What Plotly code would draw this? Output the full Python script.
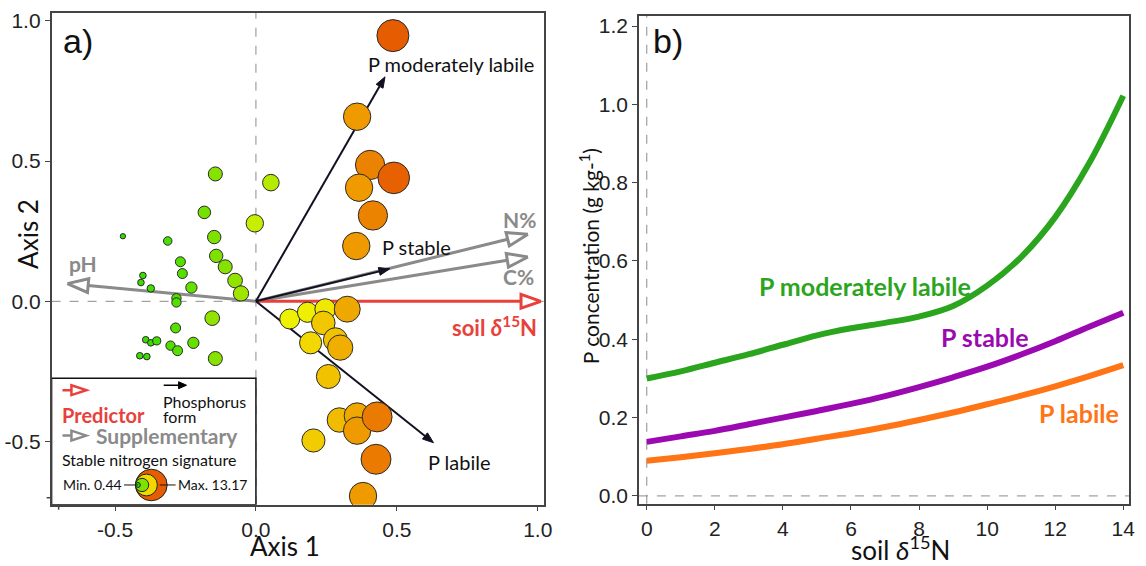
import math
import plotly.graph_objects as go
from plotly.colors import sample_colorscale

W, H = 1146, 566

# ---------------- Panel a data (ordination) ----------------
site_axis1 = [-0.144, 0.053, -0.183, -0.004, -0.472, -0.313, -0.148, -0.268, -0.141, -0.261,
              -0.109, -0.401, -0.408, -0.074, -0.373, -0.229, -0.053, -0.282, -0.282, -0.155,
              -0.285, -0.391, -0.373, -0.352, -0.303, -0.222, -0.278, -0.412, -0.387, -0.144,
              0.120, 0.183, 0.246, 0.324, 0.239, 0.194, 0.282, 0.299, 0.257, 0.296,
              0.359, 0.359, 0.430, 0.204, 0.426, 0.380, 0.486, 0.359, 0.405, 0.489,
              0.366, 0.415, 0.356]
site_axis2 = [0.454, 0.423, 0.317, 0.278, 0.232, 0.215, 0.229, 0.141, 0.162, 0.099,
              0.123, 0.092, 0.067, 0.074, 0.046, 0.049, 0.028, 0.011, -0.004, -0.060,
              -0.095, -0.137, -0.148, -0.141, -0.158, -0.148, -0.176, -0.194, -0.197, -0.204,
              -0.063, -0.039, -0.028, -0.028, -0.077, -0.148, -0.137, -0.165, -0.268, -0.423,
              -0.408, -0.461, -0.412, -0.496, -0.563, -0.694, 0.947, 0.658, 0.486, 0.440,
              0.405, 0.306, 0.197]
site_d15n = [4.7, 5.9, 4.0, 6.3, 0.6, 2.1, 4.4, 2.8, 4.4, 2.8,
             4.7, 1.2, 1.2, 5.0, 1.6, 3.4, 5.3, 2.5, 2.5, 5.0,
             2.8, 1.2, 1.2, 1.9, 2.5, 3.4, 2.8, 1.2, 1.2, 4.7,
             7.5, 7.6, 7.9, 10.3, 9.2, 8.5, 9.4, 10.0, 9.4, 9.6,
             10.3, 11.0, 12.2, 9.0, 12.2, 11.0, 13.17, 11.0, 11.9, 13.0,
             11.0, 11.9, 11.0]

pform_labels = ["P moderately labile", "P stable", "P labile"]
pform_axis1 = [0.458, 0.475, 0.630]
pform_axis2 = [0.800, 0.116, -0.504]

supp_labels = ["N%", "C%", "pH"]
supp_axis1 = [0.965, 0.965, -0.669]
supp_axis2 = [0.239, 0.158, 0.063]

pred_labels = ["soil <i>δ</i><sup>15</sup>N"]
pred_axis1 = [1.011]
pred_axis2 = [0.0]

d15n_min, d15n_max = 0.44, 13.17
legend_values = [13.17, 8.5, 4.4, 0.44]

# tick values / labels
a_ticks = [-0.5, 0, 0.5, 1.0]
a_ticktext = ['-0.5', '0.0', '0.5', '1.0']
a_extra_tick = -0.7
b_xticks = [0, 2, 4, 6, 8, 10, 12, 14]
b_yticks = [0, 0.2, 0.4, 0.6, 0.8, 1.0, 1.2]
b_yticktext = ['0.0', '0.2', '0.4', '0.6', '0.8', '1.0', '1.2']

# ---------------- Panel b data (fitted curves) ----------------
soil_d15n = [0, 1, 2, 3, 4, 5, 6, 7, 8, 9, 10, 11, 12, 13, 14]
p_mod_labile = [0.300, 0.318, 0.340, 0.362, 0.386, 0.410, 0.428, 0.442, 0.458, 0.485,
                0.537, 0.610, 0.712, 0.850, 1.022]
p_stable = [0.138, 0.152, 0.166, 0.183, 0.200, 0.217, 0.235, 0.255, 0.278, 0.303,
            0.330, 0.361, 0.395, 0.432, 0.468]
p_labile = [0.090, 0.099, 0.109, 0.120, 0.132, 0.146, 0.160, 0.176, 0.194, 0.213,
            0.234, 0.256, 0.280, 0.306, 0.334]

# ---------------- geometry / style ----------------
A = dict(l=52, r=548, t=9, b=507)
A_XR = [-0.725, 1.021]
A_YR = [-0.725, 1.028]
B = dict(l=644, r=1138, t=12, b=506)
B_XR = [-0.23, 14.17]
B_YR = [-0.02, 1.226]

SX = (A["r"] - A["l"]) / (A_XR[1] - A_XR[0])
SY = (A["b"] - A["t"]) / (A_YR[1] - A_YR[0])


def ax_px(px):
    return A_XR[0] + (px - A["l"]) / SX


def ay_px(py):
    return A_YR[1] - (py - A["t"]) / SY


def x_to_px(x):
    return A["l"] + (x - A_XR[0]) * SX


def y_to_px(y):
    return A["t"] + (A_YR[1] - y) * SY


CSCALE = [[0.0, '#2edc00'], [0.185, '#55e000'], [0.335, '#86e200'], [0.46, '#c6ee00'],
          [0.555, '#eef200'], [0.633, '#f2d800'], [0.704, '#f1c200'], [0.751, '#efae00'],
          [0.853, '#ef9500'], [0.924, '#eb7a00'], [1.0, '#e65c00']]


def tnorm(v):
    return (v - d15n_min) / (d15n_max - d15n_min)


def radius(v):
    return 2.5 + tnorm(v) * 13.5


RED = '#e8413c'
GRAY = '#8a8a8a'
AXCOL = '#444'
TICKFONT = dict(family='Liberation Sans, Arial', size=21, color='#222')
LATO = 'Lato, Open Sans, sans-serif'


def head_poly(x0, y0, xt, yt, L, hw):
    """Triangle arrowhead (in data coords of panel a) pointing from (x0,y0) to tip (xt,yt)."""
    dx, dy = (xt - x0) * SX, (yt - y0) * SY
    n = math.hypot(dx, dy)
    ux, uy = dx / n, dy / n
    px, py = -uy, ux
    bx, by = xt - ux * L / SX, yt - uy * L / SY
    xs = [xt, bx + px * hw / SX, bx - px * hw / SX, xt]
    ys = [yt, by + py * hw / SY, by - py * hw / SY, yt]
    return xs, ys, bx, by


fig = go.Figure()


def add_arrow(x0, y0, xt, yt, color, width, L, hw, filled, xref='x', yref='y'):
    xs, ys, bx, by = head_poly(x0, y0, xt, yt, L, hw)
    fig.add_trace(go.Scatter(x=[x0, bx], y=[y0, by], mode='lines',
                             line=dict(color=color, width=width), hoverinfo='skip',
                             showlegend=False, xaxis=xref, yaxis=yref))
    fig.add_trace(go.Scatter(x=xs, y=ys, mode='lines', fill='toself',
                             fillcolor=color if filled else 'white',
                             line=dict(color=color, width=width if not filled else 1),
                             hoverinfo='skip', showlegend=False, xaxis=xref, yaxis=yref))


# arrows (drawn below the points)
for xt, yt in zip(supp_axis1, supp_axis2):
    add_arrow(0, 0, xt, yt, GRAY, 3, 21, 7, False)
for xt, yt in zip(pred_axis1, pred_axis2):
    add_arrow(0, 0, xt, yt, RED, 3, 20, 7, False)
for xt, yt in zip(pform_axis1, pform_axis2):
    add_arrow(0, 0, xt, yt, '#111122', 2, 11, 4, True)

# site points
fig.add_trace(go.Scatter(
    x=site_axis1, y=site_axis2, mode='markers', showlegend=False,
    marker=dict(size=[2 * radius(v) for v in site_d15n], color=site_d15n,
                colorscale=CSCALE, cmin=d15n_min, cmax=d15n_max,
                line=dict(color='#2a2a2a', width=1), opacity=1),
    xaxis='x', yaxis='y'))

# ---------------- Panel b curves ----------------
for vals, col in [(p_labile, '#ff7415'), (p_stable, '#9a0ab0'), (p_mod_labile, '#2ba51e')]:
    fig.add_trace(go.Scatter(x=soil_d15n, y=vals, mode='lines', line_shape='spline',
                             line=dict(color=col, width=6), showlegend=False,
                             xaxis='x2', yaxis='y2'))

shapes = []
# dashed reference lines
dash = dict(color='#8c8c8c', width=1, dash='dash')
shapes += [
    dict(type='line', xref='x', yref='y domain', x0=0, x1=0, y0=0, y1=1, line=dash, layer='below'),
    dict(type='line', xref='x domain', yref='y', x0=0, x1=1, y0=0, y1=0, line=dash, layer='below'),
    dict(type='line', xref='x2', yref='y2 domain', x0=0, x1=0, y0=0, y1=1, line=dash, layer='below'),
    dict(type='line', xref='x2 domain', yref='y2', x0=0, x1=1, y0=0, y1=0, line=dash, layer='below'),
]

# extra unlabeled end ticks of panel a (drawn as short marks in paper space)
tx = x_to_px(a_extra_tick)
shapes.append(dict(type='line', xref='paper', yref='paper', x0=tx / W, x1=tx / W,
                   y0=1 - A['b'] / H, y1=1 - (A['b'] + 5) / H,
                   line=dict(color=AXCOL, width=1.5)))
ty = y_to_px(a_extra_tick)
shapes.append(dict(type='line', xref='paper', yref='paper', x0=A['l'] / W, x1=(A['l'] - 5) / W,
                   y0=1 - ty / H, y1=1 - ty / H, line=dict(color=AXCOL, width=1.5)))

# legend box (panel a)
shapes.append(dict(type='rect', xref='x', yref='y', x0=A_XR[0], x1=0, y0=A_YR[0], y1=ay_px(379),
                   fillcolor='white', line=dict(color='#111', width=1.5), layer='above'))


def path_arrow(px0, pxt, py, color, width, L, hw, filled):
    x0, xt, y = ax_px(px0), ax_px(pxt), ay_px(py)
    xs, ys, bx, by = head_poly(x0, y, xt, y, L, hw)
    out = [dict(type='line', xref='x', yref='y', x0=x0, y0=y, x1=bx, y1=by,
                line=dict(color=color, width=width), layer='above')]
    p = 'M {} {} L {} {} L {} {} Z'.format(xs[0], ys[0], xs[1], ys[1], xs[2], ys[2])
    out.append(dict(type='path', xref='x', yref='y', path=p,
                    fillcolor=color if filled else 'white',
                    line=dict(color=color, width=width if not filled else 1), layer='above'))
    return out


shapes += path_arrow(63, 87, 391, RED, 2.5, 15, 5, False)
shapes += path_arrow(63, 87, 437, GRAY, 2.5, 15, 5, False)
shapes += path_arrow(165, 188, 386, '#000', 1.5, 8, 3.5, True)

# legend nested circles
left_edge_px, cy_px = 136.5, 487
for v in legend_values:
    r = radius(v)
    cx = left_edge_px + r
    col = sample_colorscale(CSCALE, [tnorm(v)])[0]
    shapes.append(dict(type='circle', xref='x', yref='y',
                       x0=ax_px(cx - r), x1=ax_px(cx + r), y0=ay_px(cy_px + r), y1=ay_px(cy_px - r),
                       fillcolor=col, line=dict(color='#222', width=1), layer='above'))
shapes.append(dict(type='line', xref='x', yref='y', x0=ax_px(125), x1=ax_px(139),
                   y0=ay_px(cy_px), y1=ay_px(cy_px), line=dict(color='#111', width=1), layer='above'))
shapes.append(dict(type='line', xref='x', yref='y', x0=ax_px(161), x1=ax_px(177),
                   y0=ay_px(cy_px), y1=ay_px(cy_px), line=dict(color='#111', width=1), layer='above'))

ann = []


def A_text(text, px, py, size, color='#111', bold=False, xanchor='left', family=LATO):
    ann.append(dict(text='<b>%s</b>' % text if bold else text, x=ax_px(px), y=ay_px(py),
                    xref='x', yref='y', showarrow=False, xanchor=xanchor, yanchor='middle',
                    font=dict(family=family, size=size, color=color)))


# legend text
A_text('Phosphorus', 162, 402, 16)
A_text('form', 162, 418, 16)
A_text('Predictor', 60, 416, 20, RED, True)
A_text('Supplementary', 95, 437, 21, GRAY, True)
A_text('Stable nitrogen signature', 60, 461, 16)
A_text('Min. 0.44', 125, 487, 14, xanchor='right')
A_text('Max. 13.17', 177, 487, 14)

# arrow labels (offsets in pixels from arrow tips)
pform_style = [('center', 66, 13), ('left', -10, 22), ('left', -7, -19)]
for lab, xt, yt, (xa, xs, ys) in zip(pform_labels, pform_axis1, pform_axis2, pform_style):
    ann.append(dict(text=lab, x=xt, y=yt, xref='x', yref='y', showarrow=False,
                    xanchor=xa, yanchor='middle', xshift=xs, yshift=ys,
                    font=dict(family=LATO, size=20, color='#111')))
supp_style = [('right', 10, 15), ('right', 8, -20), ('left', 0, 20)]
for lab, xt, yt, (xa, xs, ys) in zip(supp_labels, supp_axis1, supp_axis2, supp_style):
    ann.append(dict(text='<b>%s</b>' % lab, x=xt, y=yt, xref='x', yref='y', showarrow=False,
                    xanchor=xa, yanchor='middle', xshift=xs, yshift=ys,
                    font=dict(family=LATO, size=21, color=GRAY)))
for lab, xt, yt in zip(pred_labels, pred_axis1, pred_axis2):
    ann.append(dict(text='<b>%s</b>' % lab, x=xt, y=yt, xref='x', yref='y', showarrow=False,
                    xanchor='right', yanchor='middle', xshift=-2, yshift=-25,
                    font=dict(family=LATO, size=22, color=RED)))

# panel b curve labels
for lab, x, y, col in [('P moderately labile', 6.41, 0.535, '#2ba51e'),
                       ('P stable', 9.94, 0.406, '#9a0ab0'),
                       ('P labile', 12.71, 0.212, '#ff7415')]:
    ann.append(dict(text='<b>%s</b>' % lab, x=x, y=y, xref='x2', yref='y2', showarrow=False,
                    xanchor='center', yanchor='middle',
                    font=dict(family=LATO, size=25, color=col)))


def P_text(text, px, py, size, angle=0, family=LATO):
    ann.append(dict(text=text, x=px / W, y=1 - py / H, xref='paper', yref='paper',
                    showarrow=False, xanchor='center', yanchor='middle', textangle=angle,
                    font=dict(family=family, size=size, color='#111')))


P_text('Axis 1', 287, 549, 26)
P_text('Axis 2', 28, 233, 26, -90)
P_text('P concentration (g kg-<sup>1</sup>)', 594, 255, 21, -90)
P_text('soil <i>δ</i><sup>15</sup>N', 908, 551, 26)
P_text('a)', 79, 37, 34, family='Liberation Sans, Arial')
P_text('b)', 673, 37, 34, family='Liberation Sans, Arial')

axis_common = dict(showgrid=False, zeroline=False, showline=True, mirror=True,
                   linecolor=AXCOL, linewidth=1.5, ticks='outside', ticklen=5,
                   tickcolor=AXCOL, tickfont=TICKFONT)

fig.update_layout(
    width=W, height=H, margin=dict(l=0, r=0, t=0, b=0),
    paper_bgcolor='white', plot_bgcolor='rgba(0,0,0,0)', showlegend=False,
    xaxis=dict(domain=[A['l'] / W, A['r'] / W], range=A_XR, anchor='y',
               tickvals=a_ticks, ticktext=a_ticktext, **axis_common),
    yaxis=dict(domain=[1 - A['b'] / H, 1 - A['t'] / H], range=A_YR, anchor='x',
               tickvals=a_ticks, ticktext=a_ticktext, **axis_common),
    xaxis2=dict(domain=[B['l'] / W, B['r'] / W], range=B_XR, anchor='y2',
                tickvals=b_xticks, **axis_common),
    yaxis2=dict(domain=[1 - B['b'] / H, 1 - B['t'] / H], range=B_YR, anchor='x2',
                tickvals=b_yticks, ticktext=b_yticktext, **axis_common),
    shapes=shapes, annotations=ann,
)

fig.write_html("out.html", config={'displayModeBar': False},
               post_script="document.body.style.margin='0';document.body.style.overflow='hidden';")
